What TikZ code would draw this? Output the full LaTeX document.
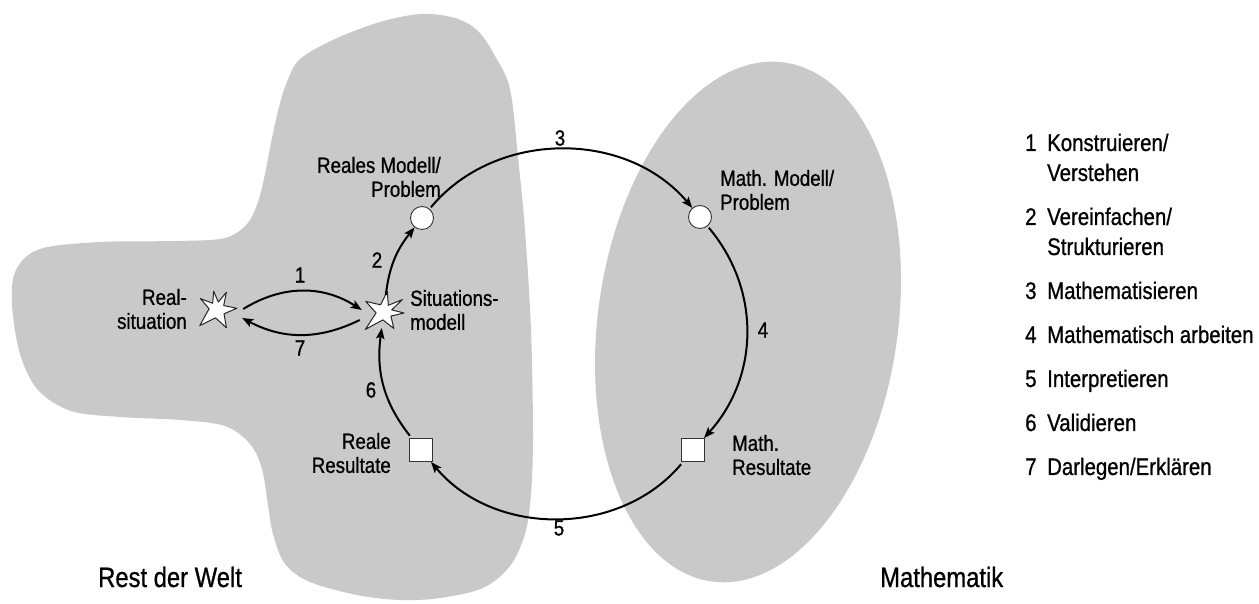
\documentclass[tikz,border=0pt]{standalone}
\usepackage{fontspec}
\setmainfont{Liberation Sans}[FakeStretch=0.85,FakeBold=0.8]
\usetikzlibrary{arrows.meta,calc}
\definecolor{blobgray}{RGB}{201,201,201}
\begin{document}
\begin{tikzpicture}[x=1pt,y=1pt,
  lbl/.style={font=\fontsize{22}{24}\selectfont, inner sep=0pt},
  arcnum/.style={font=\fontsize{22}{24}\selectfont, inner sep=0pt},
  legtxt/.style={font=\fontsize{24}{28}\selectfont, inner sep=0pt, anchor=base west},
  bigtxt/.style={font=\fontsize{28}{32}\selectfont, inner sep=0pt, anchor=west},
  cyc/.style={draw=black, line width=2pt, -{Stealth[length=11pt,width=8.5pt,inset=2.5pt]}},
  ringnode/.style={circle, draw=black!80, line width=0.9pt, fill=white, minimum size=23pt, inner sep=0pt},
  sqbox/.style={rectangle, draw=black!80, line width=0.9pt, fill=white, minimum size=23pt, inner sep=0pt},
  starnode/.style={circle, minimum size=32pt, inner sep=0pt},
  starline/.style={draw=black!85, line width=1pt, fill=white, line join=round},
]
\useasboundingbox (0,0) rectangle (1259,604);
% Rest der Welt
\fill[blobgray] plot[smooth cycle, tension=0.55] coordinates {
 (271,461) (279,497) (287,522) (300,545) (335,565) (380,582) (421,590) (455,586)
 (478,573) (495,548) (510,515) (518,447) (525,374) (531,274) (533,170) (531,110)
 (525,70) (510,38) (483,16) (440,6) (400,4) (357,9) (310,22) (285,40) (273,70)
 (268,99) (262,135) (250,160) (225,178) (180,184) (120,187) (71,193) (38,214)
 (20,250) (12,300) (16,334) (40,355) (100,362) (180,363) (225,366) (247,380)
 (258,402) (265,430)};
% Mathematik
\fill[blobgray, rotate around={-8:(748,282)}] (748,282) ellipse [x radius=150pt, y radius=262pt];

% nodes
\node[starnode] (RS) at (217,294) {};
\node[starnode] (SM) at (384,292) {};
\node[ringnode] (RM) at (422,386) {};
\node[ringnode] (MM) at (700,387) {};
\node[sqbox] (RR) at (421,154) {};
\node[sqbox] (MR) at (693,154) {};

\draw[starline, shift={(RS.center)}] (-16.6,11.4) -- (-4.3,6.7) -- (-3.3,18.7) -- (1.3,7.9)
  -- (9.4,17.8) -- (6.7,4.4) -- (19.9,1.7) -- (7.0,-3.8) -- (9.4,-17.8) -- (-1.4,-7.9)
  -- (-17.3,-15.7) -- (-7.9,1.2) -- cycle;
\draw[starline, shift={(SM.center)}] (3.3,20.8) -- (4.3,6.7) -- (18.4,12.4) -- (7.7,2.1)
  -- (20,-1) -- (6.9,-4.1) -- (9.8,-16.4) -- (-1.1,-7.9) -- (-18.6,-17.4) -- (-7.9,-0.9)
  -- (-18.3,10.6) -- (-3.4,7.2) -- cycle;

% cycle connectors
\draw[cyc, shorten <=2pt] (RM) to[bend left=50] (MM);
\draw[cyc, shorten <=2pt] (MM) to[bend left=41] (MR);
\draw[cyc, shorten <=3pt] (MR) to[bend left=50] (RR);
\draw[cyc, shorten <=3pt] (RR) to[bend left=23] (SM);
\draw[cyc, shorten <=1pt] (SM) to[bend left=16] (RM);
\draw[cyc] ([shift={(10,1)}]RS.east) to[bend left=32] ([shift={(-6,2)}]SM.west);
\draw[cyc] ([shift={(-8,-8)}]SM.west) to[bend left=27] ([shift={(9,-8)}]RS.east);

% connector numbers
\node[arcnum] (n1) at (300,329) {1};
\node[arcnum] (n2) at (377,344) {2};
\node[arcnum] (n3) at (560,466) {3};
\node[arcnum] (n4) at (763,274) {4};
\node[arcnum] (n5) at (559,76) {5};
\node[arcnum] (n6) at (371,214) {6};
\node[arcnum] (n7) at (300,256) {7};

% labels
\node[lbl, align=right, anchor=east] (tRS) at (187,295) {Real-\\situation};
\node[lbl, align=left, anchor=west] (tSM) at (410,294) {Situations-\\modell};
\node[lbl, align=right, anchor=east] (tRM) at (441,427) {Reales Modell/\\Problem};
\node[lbl, align=left, anchor=west] (tMM) at (720,414) {Math. Modell/\\Problem};
\node[lbl, align=right, anchor=east] (tRR) at (391,151) {Reale\\Resultate};
\node[lbl, align=left, anchor=west] (tMR) at (732,149) {Math.\\Resultate};
\node[bigtxt] (tW) at (98,27) {Rest der Welt};
\node[bigtxt] (tM) at (880,27) {Mathematik};

% legend
\node[legtxt] (l1) at (1025,453) {1};
\node[legtxt] (l1a) at (1047,453) {Konstruieren/};
\node[legtxt] (l1b) at (1047,423) {Verstehen};
\node[legtxt] (l2) at (1025,379) {2};
\node[legtxt] (l2a) at (1047,379) {Vereinfachen/};
\node[legtxt] (l2b) at (1047,349) {Strukturieren};
\node[legtxt] (l3) at (1025,305) {3};
\node[legtxt] (l3a) at (1047,305) {Mathematisieren};
\node[legtxt] (l4) at (1025,261) {4};
\node[legtxt] (l4a) at (1047,261) {Mathematisch arbeiten};
\node[legtxt] (l5) at (1025,217) {5};
\node[legtxt] (l5a) at (1047,217) {Interpretieren};
\node[legtxt] (l6) at (1025,173) {6};
\node[legtxt] (l6a) at (1047,173) {Validieren};
\node[legtxt] (l7) at (1025,129) {7};
\node[legtxt] (l7a) at (1047,129) {Darlegen/Erklären};
\end{tikzpicture}
\end{document}
